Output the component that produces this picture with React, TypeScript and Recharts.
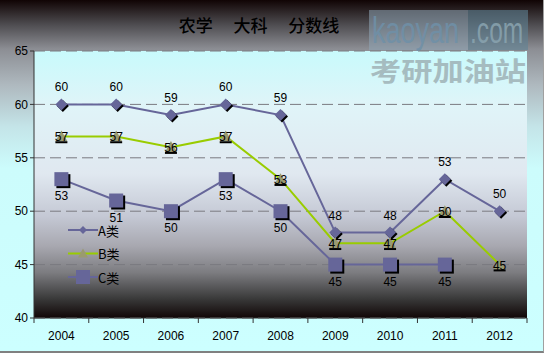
import React from 'react';
import { LineChart, Line, XAxis, YAxis, CartesianGrid, LabelList, Legend } from 'recharts';

const years = ['2004', '2005', '2006', '2007', '2008', '2009', '2010', '2011', '2012'];
const seriesA = [60, 60, 59, 60, 59, 48, 48, 53, 50];
const seriesB = [57, 57, 56, 57, 53, 47, 47, 50, 45];
const seriesC: (number | null)[] = [53, 51, 50, 53, 50, 45, 45, 45, null];
const yTicks = [40, 45, 50, 55, 60, 65];
const titleText = '农学　 大科　 分数线';

const data = years.map((y, i) => ({ year: y, A: seriesA[i], B: seriesB[i], C: seriesC[i] }));

const W = 544;
const H = 353;
const MARGIN = { top: 51, right: 17, bottom: 0, left: 0 };
const YAXIS_W = 34;
const XAXIS_H = 35;
const PLOT_W = W - MARGIN.left - MARGIN.right - YAXIS_W;
const BAND = PLOT_W / years.length;

const PURPLE = '#666699';
const GREEN = '#99cc00';
const OLIVE = '#9a9a70';
const FONT = '"Liberation Sans", "DejaVu Sans", sans-serif';

const Diamond = ({ cx, cy, r = 6 }: any) => (
  <g>
    <path d={`M${cx + 1.5},${cy - r + 1.5} L${cx + r + 1.5},${cy + 1.5} L${cx + 1.5},${cy + r + 1.5} L${cx - r + 1.5},${cy + 1.5} Z`} fill="#000" />
    <path d={`M${cx},${cy - r} L${cx + r},${cy} L${cx},${cy + r} L${cx - r},${cy} Z`} fill={PURPLE} />
  </g>
);

const Triangle = ({ cx, cy, r = 6 }: any) => (
  <g>
    <path d={`M${cx},${cy - r} L${cx + r},${cy + r * 0.8} L${cx - r},${cy + r * 0.8} Z`} fill={OLIVE} />
    <line x1={cx - r} x2={cx + r} y1={cy + r * 0.8 + 1} y2={cy + r * 0.8 + 1} stroke="#000" strokeWidth={2} />
  </g>
);

const Square = ({ cx, cy, s = 7 }: any) => (
  <g>
    <rect x={cx - s + 2} y={cy - s + 2} width={2 * s} height={2 * s} fill="#000" />
    <rect x={cx - s} y={cy - s} width={2 * s} height={2 * s} fill={PURPLE} />
  </g>
);

const dotA = (p: any) => (p.cx == null || p.cy == null || p.value == null ? <g key={p.key} /> : <Diamond key={p.key} cx={p.cx} cy={p.cy} />);
const dotB = (p: any) => (p.cx == null || p.cy == null || p.value == null ? <g key={p.key} /> : <Triangle key={p.key} cx={p.cx} cy={p.cy} />);
const dotC = (p: any) => (p.cx == null || p.cy == null || p.value == null ? <g key={p.key} /> : <Square key={p.key} cx={p.cx} cy={p.cy} />);

const makeLabel = (dy: number) => (props: any) => {
  const { x, y, value } = props;
  if (value == null || x == null || y == null) return null;
  return (
    <text x={x} y={y + dy} textAnchor="middle" dominantBaseline="central" fontSize={12} fontFamily={FONT} fill="#000">
      {value}
    </text>
  );
};

const XTick = (props: any) => {
  const { x, y, payload, index } = props;
  return (
    <g>
      <line x1={x - BAND / 2} x2={x - BAND / 2} y1={y - 8} y2={y - 3} stroke="#333" />
      {index === years.length - 1 && <line x1={x + BAND / 2} x2={x + BAND / 2} y1={y - 8} y2={y - 3} stroke="#333" />}
      <text x={x} y={y + 10} textAnchor="middle" dominantBaseline="central" fontSize={12} fontFamily={FONT} fill="#000">
        {payload.value}
      </text>
    </g>
  );
};

const legendItems = [
  { name: 'A类', color: PURPLE, kind: 'A' },
  { name: 'B类', color: GREEN, kind: 'B' },
  { name: 'C类', color: PURPLE, kind: 'C' },
];

const LegendContent = () => (
  <svg width={70} height={66}>
    {legendItems.map((it, i) => {
      const cy = 9 + i * 23.5;
      return (
        <g key={it.name}>
          <line x1={2} x2={32} y1={cy} y2={cy} stroke={it.color} strokeWidth={2} />
          {it.kind === 'A' && <path d={`M17,${cy - 4} L21,${cy} L17,${cy + 4} L13,${cy} Z`} fill={PURPLE} />}
          {it.kind === 'B' && <path d={`M17,${cy - 5} L22,${cy + 4} L12,${cy + 4} Z`} fill={OLIVE} />}
          {it.kind === 'C' && <rect x={10} y={cy - 7} width={14} height={14} fill={PURPLE} />}
          <text x={32} y={cy} dominantBaseline="central" fontSize={13} fontFamily={'"Noto Sans CJK SC", sans-serif'} fill="#000">
            {it.name}
          </text>
        </g>
      );
    })}
  </svg>
);

export default function App() {
  return (
    <div
      style={{
        position: 'absolute',
        left: 0,
        top: 0,
        width: W,
        height: H,
        boxSizing: 'border-box',
        borderBottom: '2px solid #808080',
        borderRight: '1px solid #a0a0a0',
        background:
          'linear-gradient(to bottom, #100404 0%, #4e4c50 7%, #8c8e94 14%, #aeb8be 24%, #c4e4e8 36%, #ccfcfc 48%, #ccffff 100%)',
        overflow: 'hidden',
      }}
    >
      <LineChart width={W} height={H} data={data} margin={MARGIN}>
        <defs>
          <linearGradient id="plotGrad" x1="0" y1="0" x2="0" y2="1">
            <stop offset="0" stopColor="#c8fafc" />
            <stop offset="0.21" stopColor="#e0f4f8" />
            <stop offset="0.46" stopColor="#e0e8f0" />
            <stop offset="0.62" stopColor="#c4c8d4" />
            <stop offset="0.73" stopColor="#a8a8b0" />
            <stop offset="0.83" stopColor="#7c7c80" />
            <stop offset="0.93" stopColor="#383838" />
            <stop offset="1" stopColor="#100606" />
          </linearGradient>
        </defs>
        <CartesianGrid
          vertical={false}
          fill="url(#plotGrad)"
          fillOpacity={1}
          stroke="#7a7a80"
          strokeDasharray="11 5"
        />
        <XAxis
          dataKey="year"
          height={XAXIS_H}
          axisLine={{ stroke: '#333' }}
          tickLine={false}
          tick={<XTick />}
          interval={0}
          padding={{ left: BAND / 2, right: BAND / 2 }}
        />
        <YAxis
          width={YAXIS_W}
          domain={[40, 65]}
          ticks={yTicks}
          interval={0}
          axisLine={{ stroke: '#333' }}
          tickLine={{ stroke: '#333' }}
          tickSize={4}
          tick={{ fontSize: 12, fontFamily: FONT, fill: '#000' }}
        />
        <Legend
          layout="vertical"
          align="center"
          verticalAlign="middle"
          content={<LegendContent />}
          wrapperStyle={{ position: 'absolute', left: 66, top: 221, width: 70, height: 66 }}
        />
        <Line dataKey="A" name="A类" stroke={PURPLE} strokeWidth={2} dot={dotA} isAnimationActive={false}>
          <LabelList dataKey="A" content={makeLabel(-17)} />
        </Line>
        <Line dataKey="B" name="B类" stroke={GREEN} strokeWidth={2} dot={dotB} isAnimationActive={false}>
          <LabelList dataKey="B" content={makeLabel(1)} />
        </Line>
        <Line dataKey="C" name="C类" stroke={PURPLE} strokeWidth={2} dot={dotC} isAnimationActive={false} connectNulls={false}>
          <LabelList dataKey="C" content={makeLabel(17)} />
        </Line>
      </LineChart>
      <div
        style={{
          position: 'absolute',
          left: 0,
          width: 518,
          top: 13,
          textAlign: 'center',
          fontFamily: '"Noto Sans CJK SC", sans-serif',
          fontSize: 17,
          fontWeight: 500,
          color: '#000',
          whiteSpace: 'pre',
          lineHeight: '24px',
        }}
      >
        {titleText}
      </div>
      <svg style={{ position: 'absolute', left: 0, top: 0, pointerEvents: 'none' }} width={W} height={H}>
        <rect x={369} y={10} width={99} height={40} fill="#8fa6b6" opacity={0.55} />
        <rect x={468} y={10} width={60} height={40} fill="#5f8294" opacity={0.6} />
        <text transform="translate(372,43) scale(0.9,1.25)" fontSize={30} fontFamily={FONT} fill="#6f90a8" opacity={0.85}>
          kaoyan
        </text>
        <text transform="translate(470,43) scale(0.82,1.25)" fontSize={30} fontFamily={FONT} fill="#8aa4b0" opacity={0.85}>
          .com
        </text>
        <text x={370} y={81} fontSize={26} fontWeight={700} fontFamily={'"Noto Sans CJK SC", sans-serif'} fill="#9fb2b6" opacity={0.85} textLength={156} lengthAdjust="spacingAndGlyphs">
          考研加油站
        </text>
      </svg>
    </div>
  );
}
